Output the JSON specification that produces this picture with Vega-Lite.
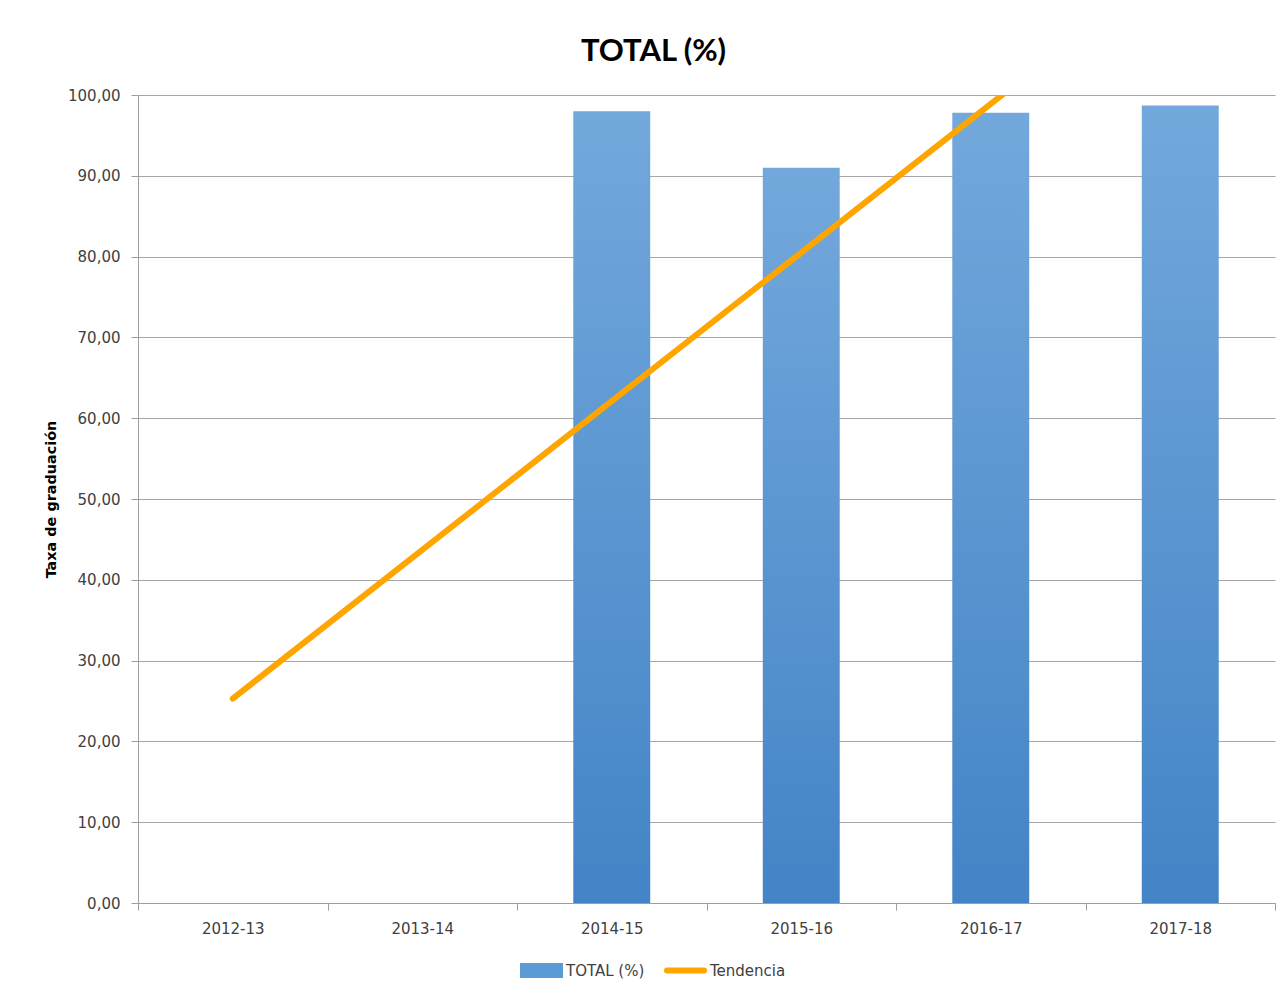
{
  "$schema": "https://vega.github.io/schema/vega-lite/v6.json",
  "width": 1137,
  "height": 808,
  "autosize": {"type": "none"},
  "padding": {"left": 138, "top": 95, "right": 9, "bottom": 90},
  "background": "white",
  "title": {
    "text": "TOTAL (%)",
    "font": "Lato",
    "fontSize": 31,
    "fontWeight": "bold",
    "color": "#000000",
    "offset": 20,
    "dx": -53,
    "anchor": "middle"
  },
  "data": {
    "values": [
      {"curso": "2012-13", "total": 0, "tendencia": 25.3},
      {"curso": "2013-14", "total": 0, "tendencia": 43.7},
      {"curso": "2014-15", "total": 98.0, "tendencia": 62.1},
      {"curso": "2015-16", "total": 91.0, "tendencia": 80.5},
      {"curso": "2016-17", "total": 97.8, "tendencia": 98.9},
      {"curso": "2017-18", "total": 98.7, "tendencia": 117.3}
    ]
  },
  "encoding": {
    "x": {
      "field": "curso",
      "type": "nominal",
      "sort": null,
      "scale": {"paddingInner": 0, "paddingOuter": 0},
      "axis": {
        "title": null,
        "labelAngle": 0,
        "tickBand": "extent",
        "tickSize": 7,
        "labelPadding": 11,
        "labelFont": "DejaVu Sans",
        "labelFontSize": 15,
        "labelColor": "#404040",
        "domainColor": "#9E9E9E",
        "tickColor": "#9E9E9E",
        "grid": false
      }
    }
  },
  "layer": [
    {
      "mark": {
        "type": "bar",
        "width": {"band": 0.406},
        "color": {
          "gradient": "linear",
          "x1": 0, "y1": 0, "x2": 0, "y2": 1,
          "stops": [
            {"offset": 0, "color": "#73A8DC"},
            {"offset": 1, "color": "#4384C6"}
          ]
        }
      },
      "encoding": {
        "y": {
          "field": "total",
          "type": "quantitative",
          "scale": {"domain": [0, 100], "nice": false},
          "axis": {
            "values": [0, 10, 20, 30, 40, 50, 60, 70, 80, 90, 100],
            "labelExpr": "replace(format(datum.value, '.2f'), '.', ',')",
            "title": "Taxa de graduación",
            "titleFont": "DejaVu Sans",
            "titleFontSize": 14.4,
            "titleFontWeight": "bold",
            "titleColor": "#000000",
            "titlePadding": 9,
            "labelFont": "DejaVu Sans",
            "labelFontSize": 15,
            "labelColor": "#404040",
            "labelPadding": 11,
            "tickSize": 7,
            "tickColor": "#9E9E9E",
            "domainColor": "#9E9E9E",
            "grid": true,
            "gridColor": "#A6A6A6"
          }
        }
      }
    },
    {
      "mark": {
        "type": "line",
        "strokeWidth": 6,
        "strokeCap": "round",
        "clip": true
      },
      "encoding": {
        "y": {
          "field": "tendencia",
          "type": "quantitative",
          "scale": {"domain": [0, 100], "nice": false},
          "title": "Taxa de graduación"
        },
        "color": {
          "datum": "Tendencia",
          "type": "nominal",
          "scale": {"domain": ["TOTAL (%)", "Tendencia"], "range": ["#5B9BD5", "#FFA500"]},
          "legend": {
            "orient": "none",
            "legendX": 382,
            "legendY": 854,
            "direction": "horizontal",
            "title": null,
            "symbolSize": 1369,
            "labelFont": "DejaVu Sans",
            "labelFontSize": 15,
            "labelColor": "#404040",
            "labelOffset": 3,
            "columnPadding": 10,
            "encode": {
              "symbols": {
                "update": {
                  "shape": {"signal": "datum.value === 'Tendencia' ? 'M-1,0H1M0,-0.24M0,0.24' : 'M-1,-0.24H1V0.24H-1Z'"},
                  "fill": {"signal": "datum.value === 'Tendencia' ? 'transparent' : '#5B9BD5'"},
                  "stroke": {"signal": "datum.value === 'Tendencia' ? '#FFA500' : 'transparent'"},
                  "strokeWidth": {"value": 6},
                  "strokeCap": {"value": "round"},
                  "opacity": {"value": 1}
                }
              }
            }
          }
        }
      }
    }
  ],
  "config": {
    "view": {"stroke": null}
  }
}
